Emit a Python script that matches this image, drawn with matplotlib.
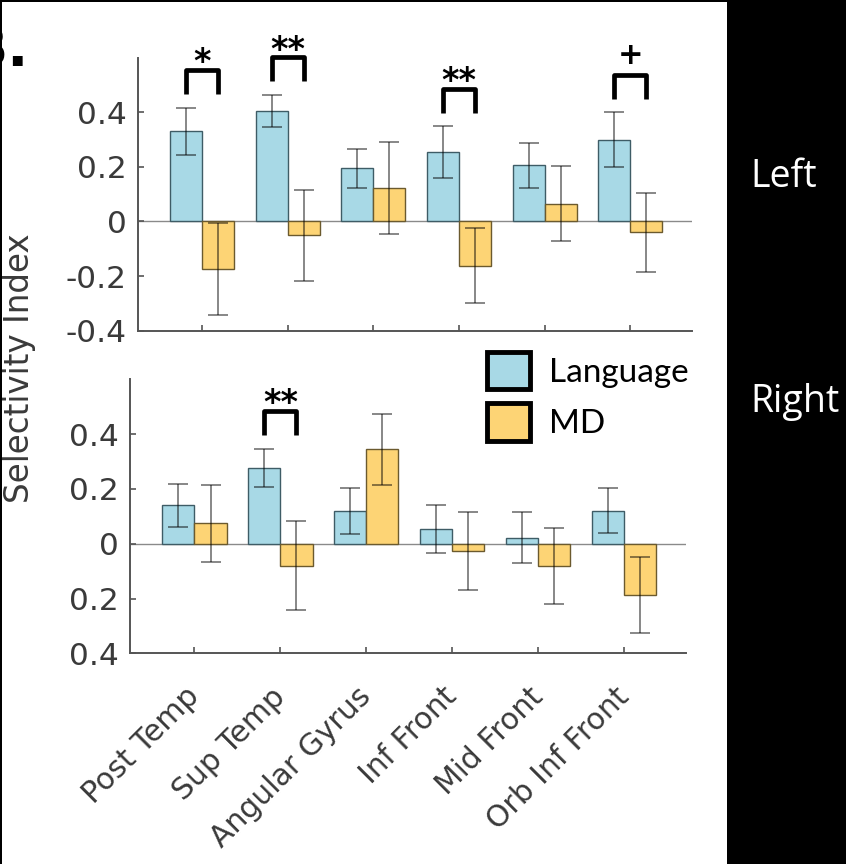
import matplotlib
matplotlib.use("Agg")
import matplotlib.pyplot as plt
from matplotlib.patches import Patch, Rectangle
import numpy as np

plt.rcParams['font.family'] = ['DejaVu Sans']

# ---- data -------------------------------------------------------------
regions = ["Post Temp", "Sup Temp", "Angular Gyrus", "Inf Front", "Mid Front", "Orb Inf Front"]

left_lang = [0.33, 0.405, 0.195, 0.253, 0.206, 0.30]
left_lang_err = [0.086, 0.058, 0.072, 0.095, 0.083, 0.10]
left_md = [-0.174, -0.05, 0.123, -0.162, 0.065, -0.04]
left_md_err = [0.17, 0.167, 0.167, 0.137, 0.137, 0.146]

right_lang = [0.14, 0.276, 0.121, 0.053, 0.022, 0.121]
right_lang_err = [0.079, 0.069, 0.084, 0.087, 0.094, 0.081]
right_md = [0.074, -0.08, 0.345, -0.027, -0.082, -0.188]
right_md_err = [0.141, 0.163, 0.13, 0.141, 0.138, 0.138]

left_sig = {0: "*", 1: "**", 3: "**", 5: "+"}
right_sig = {1: "**"}

ytick_vals = [-0.4, -0.2, 0, 0.2, 0.4]
left_ytick_labels = ["-0.4", "-0.2", "0", "0.2", "0.4"]
right_ytick_labels = ["0.4", "0.2", "0", "0.2", "0.4"]

series_names = ["Language", "MD"]
lang_color = "#A8D9E6"
md_color = "#FDD475"
lang_edge = "#3E5C66"
md_edge = "#6B5A2E"
text_gray = "#3a3a3a"

W, H = 846, 864
fig = plt.figure(figsize=(W / 100, H / 100), dpi=100, facecolor="black")

# white panel with thin dark border
fig.patches.append(Rectangle((2 / W, 0), 725 / W, 862 / H, transform=fig.transFigure,
                             facecolor="white", edgecolor="none", zorder=-5))


def fx(px):
    return px / W


def fy(py):
    return 1 - py / H


ax_top = fig.add_axes([fx(138), fy(330.7), fx(692) - fx(138), fy(57.7) - fy(330.7)])
ax_bot = fig.add_axes([fx(130), fy(653.3), fx(686) - fx(130), fy(379.3) - fy(653.3)])

x = np.arange(1, len(regions) + 1)
bw = 0.374


def draw_panel(ax, lang, lang_err, md, md_err, sig, ylabels):
    ax.set_facecolor("none")
    ax.axhline(0, color="#8a8a8a", lw=1.0, zorder=1)
    ax.bar(x - bw / 2, lang, width=bw, color=lang_color, edgecolor=lang_edge, linewidth=1.0, zorder=2)
    ax.bar(x + bw / 2, md, width=bw, color=md_color, edgecolor=md_edge, linewidth=1.0, zorder=2)
    ax.errorbar(x - bw / 2, lang, yerr=lang_err, fmt="none", ecolor="black", elinewidth=1.2,
                capsize=7, capthick=1.2, alpha=0.55, zorder=3)
    ax.errorbar(x + bw / 2, md, yerr=md_err, fmt="none", ecolor="black", elinewidth=1.2,
                capsize=7, capthick=1.2, alpha=0.55, zorder=3)
    ax.set_xlim(0.25, 6.72)
    ax.set_ylim(-0.4, 0.6)
    ax.set_yticks(ytick_vals)
    ax.set_yticklabels(ylabels)
    ax.set_xticks(x)
    for s in ("top", "right"):
        ax.spines[s].set_visible(False)
    for s in ("left", "bottom"):
        ax.spines[s].set_color("#555555")
        ax.spines[s].set_linewidth(1.4)
    ax.tick_params(direction="in", length=4, width=1.2, color="#555555",
                   labelsize=22.5, labelcolor=text_gray, pad=8)
    # significance brackets
    for i, mark in sig.items():
        base = max(lang[i] + lang_err[i], md[i] + md_err[i]) + 0.05
        top = base + 0.088
        xl, xr = x[i] - bw / 2, x[i] + bw / 2
        ax.plot([xl, xl, xr, xr], [base, top, top, base], color="black", lw=3.4,
                solid_joinstyle="round", solid_capstyle="butt", clip_on=False, zorder=4)
        if mark == "+":
            size, dy = 22, 7.5
        else:
            size, dy = 24, -1.5
        ax.annotate(mark, (x[i], top), xytext=(0, dy), textcoords="offset points",
                    ha="center", va="baseline", fontsize=size, fontweight="bold",
                    color="black", annotation_clip=False)


draw_panel(ax_top, left_lang, left_lang_err, left_md, left_md_err, left_sig, left_ytick_labels)
draw_panel(ax_bot, right_lang, right_lang_err, right_md, right_md_err, right_sig, right_ytick_labels)

ax_top.set_xticklabels([])
ax_bot.set_xticklabels(regions, rotation=45, ha="right", va="center", rotation_mode="anchor",
                       fontsize=21.5)
ax_bot.tick_params(axis="x", pad=28)

# y-axis label shared by both panels
fig.text(fx(19), fy(368), "Selectivity Index", rotation=90, ha="center", va="center",
         fontsize=23.5, color=text_gray)

# panel letter
fig.text(fx(-34), fy(66), "B.", ha="left", va="baseline", fontsize=40, fontweight="bold",
         color="black")

# legend
handles = [Patch(facecolor=lang_color, edgecolor="black", linewidth=3.5),
           Patch(facecolor=md_color, edgecolor="black", linewidth=3.5)]
fig.legend(handles, series_names, loc="upper left", bbox_to_anchor=(fx(487), fy(352)),
           frameon=False, prop={"family": "Lato", "size": 24}, handlelength=1.3,
           handleheight=1.35, labelspacing=0.42, handletextpad=0.55, borderpad=0,
           borderaxespad=0)

# hemisphere labels
fig.text(fx(750), fy(187), "Left", color="white", fontsize=27, family="Open Sans",
         ha="left", va="baseline")
fig.text(fx(750), fy(412), "Right", color="white", fontsize=27, family="Open Sans",
         ha="left", va="baseline")

fig.savefig("out.png", dpi=100, facecolor=fig.get_facecolor())
